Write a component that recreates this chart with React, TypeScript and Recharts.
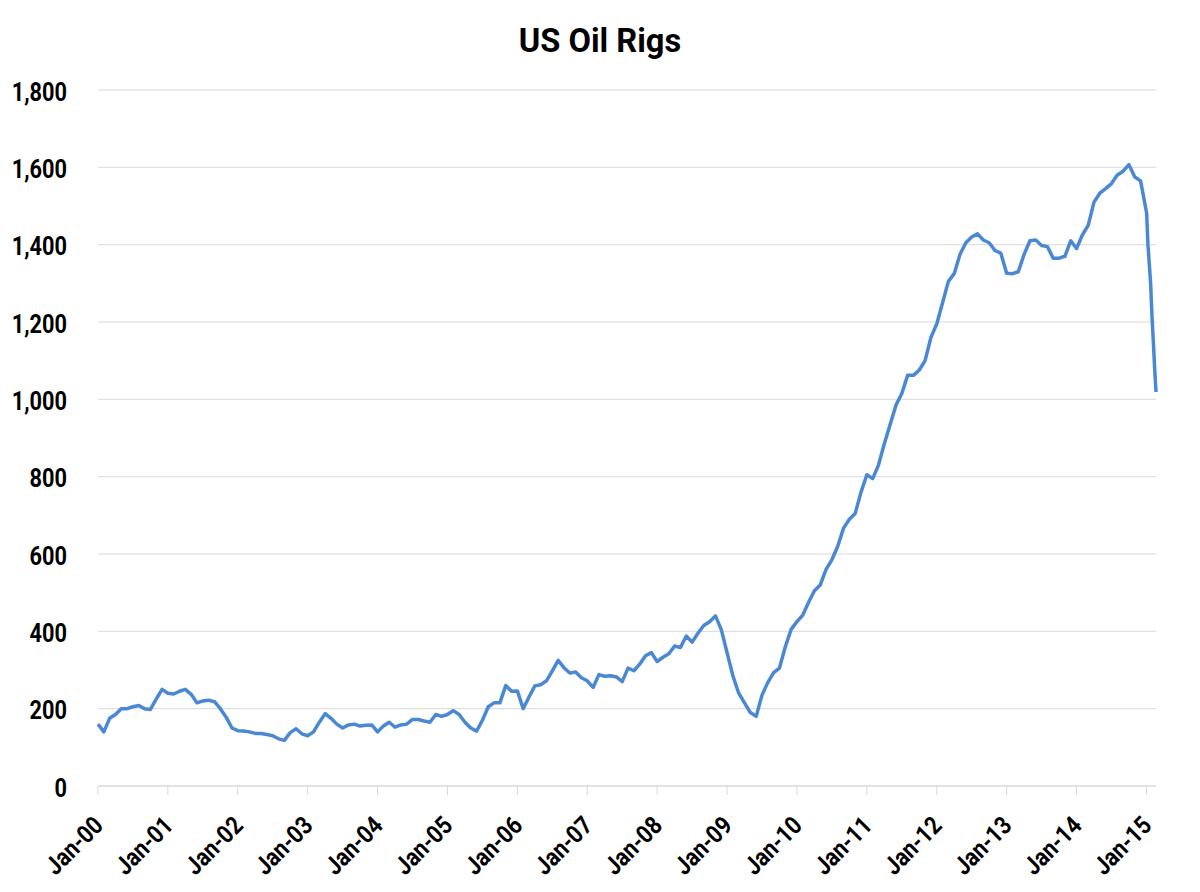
import { LineChart, Line, XAxis, YAxis, CartesianGrid } from 'recharts';

// monthly US oil rig counts (Jan..Dec)
const rigs2000 = [160, 140, 175, 185, 200, 200, 205, 208, 200, 198, 225, 250];
const rigs2001 = [240, 238, 245, 250, 237, 215, 220, 222, 218, 200, 178, 150];
const rigs2002 = [143, 142, 140, 136, 136, 133, 130, 122, 118, 138, 148, 135];
const rigs2003 = [130, 140, 165, 187, 175, 160, 150, 158, 160, 155, 157, 158];
const rigs2004 = [140, 155, 165, 152, 158, 160, 172, 172, 168, 165, 185, 180];
const rigs2005 = [185, 195, 185, 165, 150, 142, 170, 205, 215, 215, 260, 245];
const rigs2006 = [246, 200, 230, 259, 262, 272, 298, 325, 306, 292, 295, 280];
const rigs2007 = [272, 255, 288, 284, 285, 282, 270, 305, 298, 315, 337, 345];
const rigs2008 = [322, 333, 342, 362, 358, 388, 372, 395, 415, 425, 440, 405];
const rigs2009 = [345, 285, 240, 215, 190, 180, 235, 268, 293, 305, 360, 405];
const rigs2010 = [425, 442, 475, 505, 520, 560, 585, 620, 667, 690, 705, 760];
const rigs2011 = [805, 795, 830, 885, 935, 985, 1015, 1062, 1062, 1076, 1100, 1160];
const rigs2012 = [1195, 1250, 1305, 1325, 1375, 1405, 1420, 1428, 1412, 1405, 1385, 1378];
const rigs2013 = [1326, 1325, 1330, 1375, 1410, 1412, 1398, 1395, 1365, 1365, 1370, 1410];
const rigs2014 = [1390, 1425, 1450, 1510, 1533, 1545, 1558, 1580, 1590, 1607, 1575, 1565];

// weekly counts for early 2015 (day of year)
const days2015 = [2, 9, 16, 23, 30, 37, 44, 51];
const rigs2015 = [1482, 1400, 1350, 1300, 1215, 1150, 1080, 1019];

const xTickLabels = [
  'Jan-00', 'Jan-01', 'Jan-02', 'Jan-03', 'Jan-04', 'Jan-05', 'Jan-06', 'Jan-07',
  'Jan-08', 'Jan-09', 'Jan-10', 'Jan-11', 'Jan-12', 'Jan-13', 'Jan-14', 'Jan-15',
];
const yTicks = [0, 200, 400, 600, 800, 1000, 1200, 1400, 1600, 1800];

const monthly = [
  rigs2000, rigs2001, rigs2002, rigs2003, rigs2004, rigs2005, rigs2006, rigs2007,
  rigs2008, rigs2009, rigs2010, rigs2011, rigs2012, rigs2013, rigs2014,
];

const data = [
  ...monthly.flatMap((months, y) => months.map((v, m) => ({ t: y + m / 12, rigs: v }))),
  ...rigs2015.map((v, i) => ({ t: 15 + (days2015[i] - 1) / 365, rigs: v })),
];

const FONT = 'Roboto, "Noto Sans", sans-serif';
const SQUEEZE = 0.87; // reference uses a condensed face

const DateTick = ({ x, y, payload }: any) => (
  <text
    transform={`translate(${x + 6.7},${y + 30}) rotate(-45) scale(${SQUEEZE},1)`}
    textAnchor="end"
    fontSize={25}
    fontWeight="bold"
    fontFamily={FONT}
    fill="#000"
  >
    {xTickLabels[payload.value]}
  </text>
);

const CountTick = ({ x, y, payload }: any) => (
  <text
    transform={`translate(${x},${y}) scale(${SQUEEZE},1)`}
    textAnchor="end"
    dy={10.8}
    fontSize={25}
    fontWeight="bold"
    fontFamily={FONT}
    fill="#000"
  >
    {Number(payload.value).toLocaleString('en-US')}
  </text>
);

export default function App() {
  return (
    <div style={{ position: 'relative', width: 1184, height: 884 }}>
      <svg
        width={1184}
        height={60}
        style={{ position: 'absolute', top: 0, left: 0, pointerEvents: 'none' }}
      >
        <text
          transform={`translate(592,43.7) scale(0.96,1)`}
          textAnchor="middle"
          fontFamily={FONT}
          fontWeight="bold"
          fontSize={34}
          fill="#000"
        >
          US Oil Rigs
        </text>
      </svg>
      <LineChart
        width={1184}
        height={884}
        data={data}
        margin={{ top: 82, right: 36, left: 0, bottom: 0 }}
      >
        <CartesianGrid vertical={false} stroke="#d9d9d9" />
        <XAxis
          type="number"
          dataKey="t"
          domain={[0, 'dataMax']}
          ticks={xTickLabels.map((_, i) => i)}
          interval={0}
          height={106}
          stroke="#d9d9d9"
          tickSize={9}
          tickMargin={2}
          tick={<DateTick />}
        />
        <YAxis
          type="number"
          domain={[0, 1800]}
          ticks={yTicks}
          width={90}
          axisLine={false}
          tickLine={false}
          tickMargin={25}
          tick={<CountTick />}
        />
        <Line
          type="linear"
          dataKey="rigs"
          stroke="#4a88d4"
          strokeWidth={3.5}
          strokeLinejoin="round"
          dot={false}
          isAnimationActive={false}
        />
      </LineChart>
    </div>
  );
}
